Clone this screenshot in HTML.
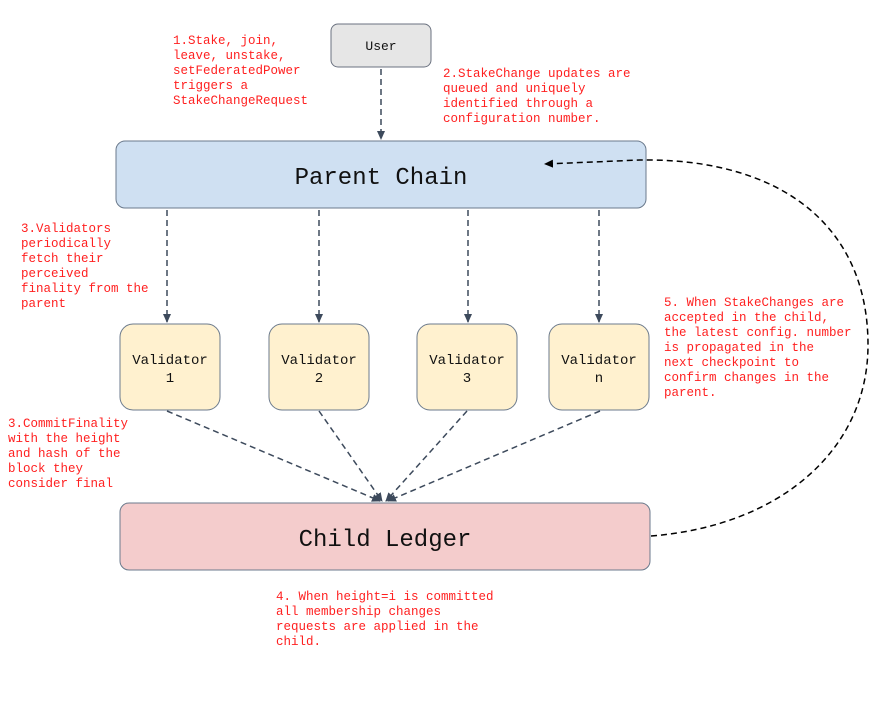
<!DOCTYPE html>
<html><head><meta charset="utf-8"><style>
html,body{margin:0;padding:0;background:#fff;}
svg{display:block}
.r{font-family:"Liberation Mono",monospace;font-size:12.5px;fill:#ff2020}
.b{font-family:"Liberation Mono",monospace;fill:#111}
</style></head><body>
<svg width="876" height="702" viewBox="0 0 876 702" xmlns="http://www.w3.org/2000/svg">
<defs>
<marker id="a" markerWidth="10" markerHeight="10" refX="8" refY="5" orient="auto" markerUnits="userSpaceOnUse"><path d="M0,1 L9,5 L0,9 Z" fill="#3d4a5c"/></marker>
<marker id="k" markerWidth="10" markerHeight="10" refX="8" refY="5" orient="auto" markerUnits="userSpaceOnUse"><path d="M0,1 L9,5 L0,9 Z" fill="#000"/></marker>
</defs>
<rect width="876" height="702" fill="#fff"/>
<g stroke="#3d4a5c" stroke-width="1.5" stroke-dasharray="6,4" fill="none" marker-end="url(#a)">
<line x1="381" y1="69" x2="381" y2="139"/>
<line x1="167" y1="210" x2="167" y2="322"/>
<line x1="319" y1="210" x2="319" y2="322"/>
<line x1="468" y1="210" x2="468" y2="322"/>
<line x1="599" y1="210" x2="599" y2="322"/>
<line x1="167" y1="411" x2="380" y2="501"/>
<line x1="319" y1="411" x2="382" y2="501"/>
<line x1="467" y1="411" x2="386" y2="501"/>
<line x1="600" y1="411" x2="388" y2="501"/>
</g>
<rect x="331" y="24" width="100" height="43" rx="7" fill="#e6e6e6" stroke="#6b7280"/>
<text class="b" x="381" y="50" font-size="13" text-anchor="middle">User</text>
<rect x="116" y="141" width="530" height="67" rx="9" fill="#cfe0f2" stroke="#6b7a8c"/>
<text class="b" x="381" y="184" font-size="24" text-anchor="middle">Parent Chain</text>
<g fill="#fff1cf" stroke="#6b7a8c">
<rect x="120" y="324" width="100" height="86" rx="13"/>
<rect x="269" y="324" width="100" height="86" rx="13"/>
<rect x="417" y="324" width="100" height="86" rx="13"/>
<rect x="549" y="324" width="100" height="86" rx="13"/>
</g>
<g class="b" font-size="14" text-anchor="middle">
<text x="170" y="364">Validator</text><text x="170" y="382">1</text>
<text x="319" y="364">Validator</text><text x="319" y="382">2</text>
<text x="467" y="364">Validator</text><text x="467" y="382">3</text>
<text x="599" y="364">Validator</text><text x="599" y="382">n</text>
</g>
<rect x="120" y="503" width="530" height="67" rx="9" fill="#f4cccc" stroke="#6b7a8c"/>
<text class="b" x="385" y="546" font-size="24" text-anchor="middle">Child Ledger</text>
<path d="M651,536 C 780,526 868,450 868,345 C 868,225 780,158 640,160 L 545,164" stroke="#000" stroke-width="1.5" stroke-dasharray="6,4" fill="none" marker-end="url(#k)"/>
<text class="r"><tspan x="173" y="44">1.Stake, join,</tspan><tspan x="173" y="59">leave, unstake,</tspan><tspan x="173" y="74">setFederatedPower</tspan><tspan x="173" y="89">triggers a</tspan><tspan x="173" y="104">StakeChangeRequest</tspan></text>
<text class="r"><tspan x="443" y="77">2.StakeChange updates are</tspan><tspan x="443" y="92">queued and uniquely</tspan><tspan x="443" y="107">identified through a</tspan><tspan x="443" y="122">configuration number.</tspan></text>
<text class="r"><tspan x="21" y="232">3.Validators</tspan><tspan x="21" y="247">periodically</tspan><tspan x="21" y="262">fetch their</tspan><tspan x="21" y="277">perceived</tspan><tspan x="21" y="292">finality from the</tspan><tspan x="21" y="307">parent</tspan></text>
<text class="r"><tspan x="8" y="427">3.CommitFinality</tspan><tspan x="8" y="442">with the height</tspan><tspan x="8" y="457">and hash of the</tspan><tspan x="8" y="472">block they</tspan><tspan x="8" y="487">consider final</tspan></text>
<text class="r" font-size="12"><tspan x="664" y="306">5. When StakeChanges are</tspan><tspan x="664" y="321">accepted in the child,</tspan><tspan x="664" y="336">the latest config. number</tspan><tspan x="664" y="351">is propagated in the</tspan><tspan x="664" y="366">next checkpoint to</tspan><tspan x="664" y="381">confirm changes in the</tspan><tspan x="664" y="396">parent.</tspan></text>
<text class="r"><tspan x="276" y="600">4. When height=i is committed</tspan><tspan x="276" y="615">all membership changes</tspan><tspan x="276" y="630">requests are applied in the</tspan><tspan x="276" y="645">child.</tspan></text>
</svg>
</body></html>
